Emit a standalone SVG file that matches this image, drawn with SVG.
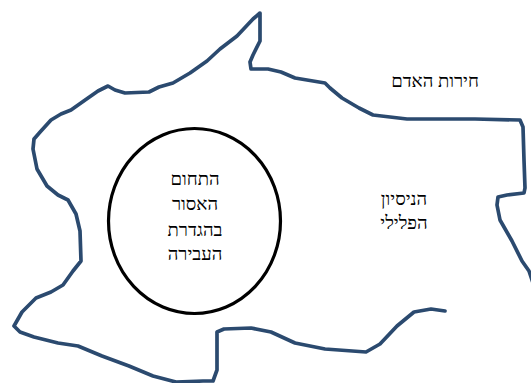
<svg xmlns="http://www.w3.org/2000/svg" width="531" height="383" viewBox="0 0 531 383">
<style>
.border{fill:none;stroke:#2B4A6F;stroke-width:3.7;stroke-linejoin:round;stroke-linecap:round}
.oval{fill:none;stroke:#000;stroke-width:3.2}
.t{font-family:"Liberation Serif","DejaVu Serif",serif;font-size:18.5px;fill:#000;text-anchor:middle}
</style>
<rect width="531" height="383" fill="#fff"/>
<g id="outer-region">
<path class="border" d="M533,283 L529,271 L522,261 L512,241 L500,220 L497,205 L498,197 L507,195 L524,193 L525,188 L524,160 L523,127 L520,120 L475,119 L407,119 L373,115 L359,108 L342,98 L330,88 L325,83 L295,78 L281,72 L268,69 L251,69 L250,62 L253,55 L260,41 L260,13 L253,19 L237,36 L220,49 L207,61 L190,73 L173,83 L159,87 L149,92 L125,93 L115,90 L108,86 L98,91 L88,98 L71,110 L61,114 L51,120 L41,131 L34,139 L33,149 L37,169 L47,186 L58,195 L68,200 L76,214 L80,231 L81,261 L73,271 L63,285 L51,292 L36,298 L22,312 L14,326 L20,332 L34,337 L58,343 L78,346 L102,356 L129,366 L153,376 L176,382 L203,381 L213,381 L217,370 L217,332 L224,329 L251,328 L271,332 L295,343 L325,349 L366,352 L380,344 L397,326 L414,312 L431,309 L445,311"/>
</g>
<g id="label-freedom">
<text class="t" x="435" y="87">חירות האדם</text>
</g>
<g id="label-attempt">
<text class="t" x="404" y="205">הניסיון</text>
<text class="t" x="404" y="229">הפלילי</text>
</g>
<g id="inner-oval">
<ellipse class="oval" cx="194.5" cy="221" rx="86" ry="92.5"/>
<text class="t" x="195" y="185">התחום</text>
<text class="t" x="195" y="210">האסור</text>
<text class="t" x="195" y="236">בהגדרת</text>
<text class="t" x="195" y="260">העבירה</text>
</g>
<g id="connectors"/>
</svg>
